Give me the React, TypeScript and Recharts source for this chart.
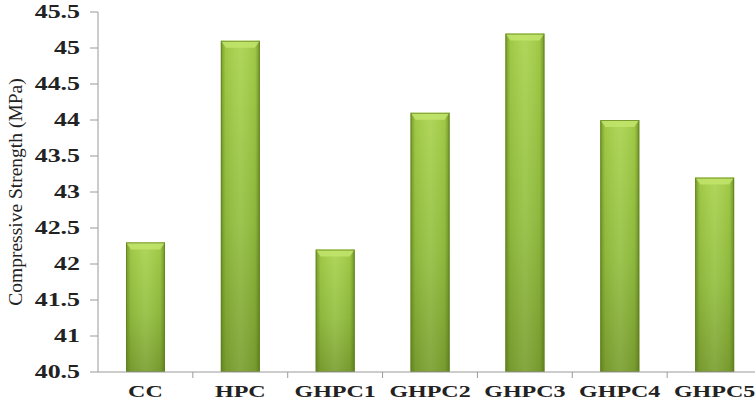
import { BarChart, Bar, XAxis, YAxis } from "recharts";

const mixes = ["CC", "HPC", "GHPC1", "GHPC2", "GHPC3", "GHPC4", "GHPC5"];
const strength = [42.3, 45.1, 42.2, 44.1, 45.2, 44.0, 43.2];
const yTicks = [40.5, 41, 41.5, 42, 42.5, 43, 43.5, 44, 44.5, 45, 45.5];

const data = mixes.map((name, i) => ({ name, value: strength[i] }));

const W = 762;
const H = 404;
const LEFT = 98;
const TOP = 12;
const XAXIS_H = 32;
const BAND = (W - LEFT) / mixes.length;
const AXIS_Y = H - XAXIS_H;
const FONT = "'Liberation Serif', 'Times New Roman', serif";

function GlassBar(props: any) {
  const { x, y, width, height } = props;
  if (!height || height <= 0) return null;
  const bevel = Math.min(7, height / 4);
  return (
    <g>
      <rect x={x} y={y} width={width} height={height} fill="url(#barBody)" />
      <rect x={x} y={y} width={width} height={height} fill="url(#barEdge)" />
      <path
        d={`M${x},${y} L${x + width},${y} L${x + width - 5},${y + bevel} L${x + 5},${y + bevel} Z`}
        fill="#c2e46c"
        opacity={0.85}
      />
      <rect x={x + 0.5} y={y + 0.5} width={width - 1} height={height - 1} fill="none" stroke="#5f7f1c" strokeWidth={1} opacity={0.7} />
    </g>
  );
}

function YTick(props: any) {
  const { x, y, payload } = props;
  return (
    <text
      transform={`translate(${x - 8},${y}) scale(1.4,1)`}
      textAnchor="end"
      dominantBaseline="central"
      fontFamily={FONT}
      fontWeight="bold"
      fontSize={18.5}
      fill="#222"
    >
      {payload.value}
    </text>
  );
}

function XTick(props: any) {
  const { x, payload, index } = props;
  return (
    <g>
      {index < mixes.length - 1 && (
        <line x1={x + BAND / 2} x2={x + BAND / 2} y1={AXIS_Y} y2={AXIS_Y + 6} stroke="#9a9a9a" />
      )}
      <text
        transform={`translate(${x},${AXIS_Y + 25}) scale(1.5,1)`}
        textAnchor="middle"
        fontFamily={FONT}
        fontWeight="bold"
        fontSize={16}
        fill="#222"
      >
        {payload.value}
      </text>
    </g>
  );
}

function YLabel(props: any) {
  const { viewBox } = props;
  const cx = 15;
  const cy = viewBox.y + viewBox.height / 2;
  return (
    <text
      x={cx}
      y={cy}
      transform={`rotate(-90,${cx},${cy})`}
      textAnchor="middle"
      dominantBaseline="central"
      fontFamily={FONT}
      fontSize={19.5}
      fill="#222"
    >
      Compressive Strength (MPa)
    </text>
  );
}

export default function App() {
  return (
    <div style={{ position: "absolute", left: 0, top: 0, width: 755, height: H, overflow: "hidden", background: "#fff" }}>
      <BarChart width={W} height={H} data={data} margin={{ top: TOP, right: 0, bottom: 0, left: 0 }}>
        <defs>
          <linearGradient id="barBody" x1="0" y1="0" x2="0" y2="1">
            <stop offset="0%" stopColor="#a9d34c" />
            <stop offset="55%" stopColor="#93bf40" />
            <stop offset="100%" stopColor="#7b9f30" />
          </linearGradient>
          <linearGradient id="barEdge" x1="0" y1="0" x2="1" y2="0">
            <stop offset="0%" stopColor="#4d6a14" stopOpacity={0.55} />
            <stop offset="12%" stopColor="#4d6a14" stopOpacity={0.1} />
            <stop offset="50%" stopColor="#ffffff" stopOpacity={0.08} />
            <stop offset="88%" stopColor="#4d6a14" stopOpacity={0.1} />
            <stop offset="100%" stopColor="#4d6a14" stopOpacity={0.6} />
          </linearGradient>
        </defs>
        <XAxis
          dataKey="name"
          height={XAXIS_H}
          stroke="#9a9a9a"
          tickLine={false}
          tick={<XTick />}
          interval={0}
        />
        <YAxis
          width={LEFT}
          domain={[40.5, 45.5]}
          ticks={yTicks}
          allowDataOverflow
          stroke="#9a9a9a"
          tickSize={8}
          tick={<YTick />}
          label={<YLabel />}
        />
        <Bar dataKey="value" barSize={39} shape={<GlassBar />} isAnimationActive={false} />
      </BarChart>
    </div>
  );
}
